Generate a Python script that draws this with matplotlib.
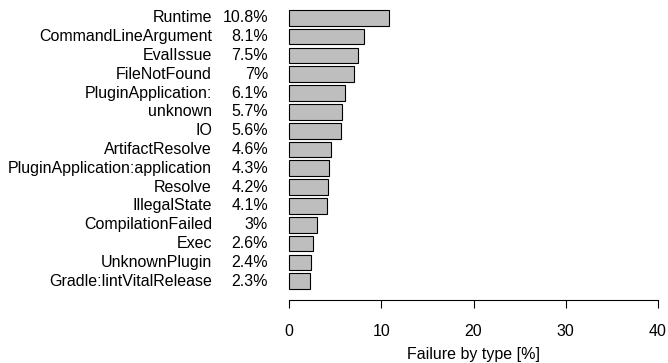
import matplotlib.pyplot as plt

plt.rcParams['font.family'] = ['Liberation Sans', 'DejaVu Sans']

failure_types = [
    "Runtime", "CommandLineArgument", "EvalIssue", "FileNotFound",
    "PluginApplication:", "unknown", "IO", "ArtifactResolve",
    "PluginApplication:application", "Resolve", "IllegalState",
    "CompilationFailed", "Exec", "UnknownPlugin", "Gradle:lintVitalRelease",
]
failure_share = [10.8, 8.1, 7.5, 7, 6.1, 5.7, 5.6, 4.6, 4.3, 4.2, 4.1, 3, 2.6, 2.4, 2.3]

W, H = 668, 363
fig = plt.figure(figsize=(W / 100, H / 100), dpi=100)
# plot region in pixels: x 289..658, y 10..289 (from top)
ax = fig.add_axes([289 / W, (H - 289) / H, 369 / W, 279 / H])

bar_h = 1 / 1.2
ypos = list(range(len(failure_types)))
ax.barh(ypos, failure_share, height=bar_h, color="#bebebe",
        edgecolor="black", linewidth=0.8, clip_on=False)

ax.set_xlim(0, 40)
ax.set_ylim(len(failure_types) - 1 + bar_h / 2, -bar_h / 2)

fs = 11.5
trans = ax.get_yaxis_transform()
for y, name, val in zip(ypos, failure_types, failure_share):
    ax.text(-0.209, y, name, transform=trans, ha="right", va="center", fontsize=fs)
    ax.text(-0.057, y, f"{val:g}%", transform=trans, ha="right", va="center", fontsize=fs)

for side in ["top", "right", "left"]:
    ax.spines[side].set_visible(False)
ax.spines["bottom"].set_position(("outward", 8))
ax.spines["bottom"].set_bounds(0, 40)
ax.spines["bottom"].set_linewidth(0.8)
ax.set_yticks([])
ax.set_xticks([0, 10, 20, 30, 40])
ax.tick_params(axis="x", length=6, width=0.8, pad=11, labelsize=fs)
ax.set_xlabel("Failure by type [%]", fontsize=fs, labelpad=6)

fig.savefig("out.png", dpi=100)
